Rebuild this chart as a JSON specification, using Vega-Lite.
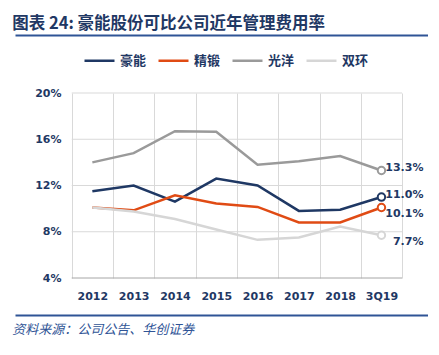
{
  "$schema": "https://vega.github.io/schema/vega-lite/v6.json",
  "padding": {"left": 12, "top": 16, "right": 0, "bottom": 0},
  "background": "white",
  "spacing": 6,
  "bounds": "full",
  "resolve": {"legend": {"color": "independent"}, "scale": {"color": "independent"}},
  "config": {"view": {"stroke": null}, "font": "DejaVu Sans"},
  "datasets": {
    "rates": [
      {"period": "2012", "company": "豪能", "rate": 0.115},
      {"period": "2013", "company": "豪能", "rate": 0.120},
      {"period": "2014", "company": "豪能", "rate": 0.106},
      {"period": "2015", "company": "豪能", "rate": 0.126},
      {"period": "2016", "company": "豪能", "rate": 0.120},
      {"period": "2017", "company": "豪能", "rate": 0.098},
      {"period": "2018", "company": "豪能", "rate": 0.099},
      {"period": "3Q19", "company": "豪能", "rate": 0.110},
      {"period": "2012", "company": "精锻", "rate": 0.101},
      {"period": "2013", "company": "精锻", "rate": 0.0985},
      {"period": "2014", "company": "精锻", "rate": 0.1115},
      {"period": "2015", "company": "精锻", "rate": 0.1045},
      {"period": "2016", "company": "精锻", "rate": 0.1015},
      {"period": "2017", "company": "精锻", "rate": 0.088},
      {"period": "2018", "company": "精锻", "rate": 0.088},
      {"period": "3Q19", "company": "精锻", "rate": 0.101},
      {"period": "2012", "company": "光洋", "rate": 0.140},
      {"period": "2013", "company": "光洋", "rate": 0.148},
      {"period": "2014", "company": "光洋", "rate": 0.167},
      {"period": "2015", "company": "光洋", "rate": 0.1665},
      {"period": "2016", "company": "光洋", "rate": 0.138},
      {"period": "2017", "company": "光洋", "rate": 0.141},
      {"period": "2018", "company": "光洋", "rate": 0.1455},
      {"period": "3Q19", "company": "光洋", "rate": 0.133},
      {"period": "2012", "company": "双环", "rate": 0.101},
      {"period": "2013", "company": "双环", "rate": 0.0975},
      {"period": "2014", "company": "双环", "rate": 0.091},
      {"period": "2015", "company": "双环", "rate": 0.082},
      {"period": "2016", "company": "双环", "rate": 0.073},
      {"period": "2017", "company": "双环", "rate": 0.075},
      {"period": "2018", "company": "双环", "rate": 0.0845},
      {"period": "3Q19", "company": "双环", "rate": 0.077}
    ],
    "grid": [
      {"level": 0.08}, {"level": 0.12}, {"level": 0.16}, {"level": 0.20}
    ],
    "base": [
      {"level": 0.04}
    ]
  },
  "vconcat": [
    {
      "width": 413,
      "height": 1,
      "title": {"text": "图表 24:   豪能股份可比公司近年管理费用率", "anchor": "start", "font": "Noto Sans CJK SC", "fontSize": 16.5, "fontWeight": "bold", "color": "#1f3864", "offset": -1},
      "data": {"values": [{}]},
      "mark": {"type": "point", "opacity": 0},
      "encoding": {
        "x": {"datum": 0, "type": "quantitative", "axis": {"domain": true, "domainColor": "#2f5496", "domainWidth": 2, "ticks": false, "labels": false, "grid": false, "title": null}}
      }
    },
    {
      "width": 413,
      "height": 185,
      "encoding": {
        "x": {"field": "period", "type": "ordinal",
          "scale": {"type": "band", "domain": ["2012", "2013", "2014", "2015", "2016", "2017", "2018", "3Q19"], "paddingInner": 0, "paddingOuter": 1.0737, "align": 0.6865},
          "axis": {"title": null, "labelAngle": 0, "tickBand": "extent", "grid": true, "gridColor": "#d9d9d9", "gridWidth": 1, "domain": false, "ticks": false, "labelPadding": 12, "labelFont": "DejaVu Sans", "labelFontSize": 11, "labelFontWeight": "bold", "labelColor": "#1f3864"}},
        "y": {"field": "rate", "type": "quantitative", "scale": {"domain": [0.04, 0.20], "nice": false, "zero": false},
          "axis": {"title": null, "values": [0.04, 0.08, 0.12, 0.16, 0.20], "format": ".0%", "domain": false, "ticks": false, "grid": false, "offset": -60, "labelPadding": 14, "labelFont": "DejaVu Sans", "labelFontSize": 11, "labelFontWeight": "bold", "labelColor": "#1f3864"}}
      },
      "layer": [
        {
          "data": {"name": "grid"},
          "mark": {"type": "rule", "color": "#d9d9d9", "strokeWidth": 1},
          "encoding": {
            "x": {"datum": "2012", "type": "ordinal", "bandPosition": 0},
            "x2": {"datum": "3Q19", "bandPosition": 1},
            "y": {"field": "level", "type": "quantitative"}
          }
        },
        {
          "data": {"name": "base"},
          "mark": {"type": "rule", "color": "#a6a6a6", "strokeWidth": 1},
          "encoding": {
            "x": {"datum": "2012", "type": "ordinal", "bandPosition": 0},
            "x2": {"datum": "3Q19", "bandPosition": 1},
            "y": {"field": "level", "type": "quantitative"}
          }
        },
        {
          "data": {"name": "rates"},
          "mark": {"type": "line", "strokeWidth": 2.5},
          "encoding": {
            "color": {"field": "company", "type": "nominal",
              "scale": {"domain": ["豪能", "精锻", "光洋", "双环"], "range": ["#1f3864", "#e04b14", "#9a9a9a", "#d6d6d6"]},
              "legend": {"title": null, "orient": "none", "legendX": 68, "legendY": -49, "direction": "horizontal", "symbolType": "stroke", "symbolSize": 900, "symbolStrokeWidth": 2.5, "labelFont": "Noto Sans CJK SC", "labelFontSize": 13, "labelFontWeight": "bold", "labelColor": "#1f3864", "columnPadding": 6, "labelOffset": 4}}
          }
        },
        {
          "data": {"name": "rates"},
          "transform": [{"filter": "datum.period == '3Q19'"}],
          "mark": {"type": "point", "filled": false, "fill": "white", "fillOpacity": 1, "strokeWidth": 2, "size": 55, "opacity": 1},
          "encoding": {"color": {"field": "company", "type": "nominal"}}
        },
        {
          "data": {"name": "rates"},
          "transform": [{"filter": "datum.period == '3Q19' && (datum.company == '光洋' || datum.company == '豪能')"}],
          "mark": {"type": "text", "align": "right", "dx": 42, "dy": -2, "font": "DejaVu Sans", "fontSize": 11, "fontWeight": "bold", "fill": "#1f3864"},
          "encoding": {"text": {"field": "rate", "type": "quantitative", "format": ".1%"}}
        },
        {
          "data": {"name": "rates"},
          "transform": [{"filter": "datum.period == '3Q19' && (datum.company == '精锻' || datum.company == '双环')"}],
          "mark": {"type": "text", "align": "right", "dx": 42, "dy": 7, "font": "DejaVu Sans", "fontSize": 11, "fontWeight": "bold", "fill": "#1f3864"},
          "encoding": {"text": {"field": "rate", "type": "quantitative", "format": ".1%"}}
        }
      ]
    },
    {
      "width": 413,
      "height": 8,
      "title": {"text": "资料来源：公司公告、华创证券", "orient": "bottom", "anchor": "start", "font": "Noto Sans CJK SC", "fontSize": 13, "fontStyle": "italic", "fontWeight": "normal", "color": "#2f5496", "offset": 9},
      "data": {"values": [{}]},
      "mark": {"type": "point", "opacity": 0},
      "encoding": {
        "x": {"datum": 0, "type": "quantitative", "axis": {"orient": "bottom", "domain": true, "domainColor": "#2f5496", "domainWidth": 2, "ticks": false, "labels": false, "grid": false, "title": null}}
      }
    }
  ]
}
